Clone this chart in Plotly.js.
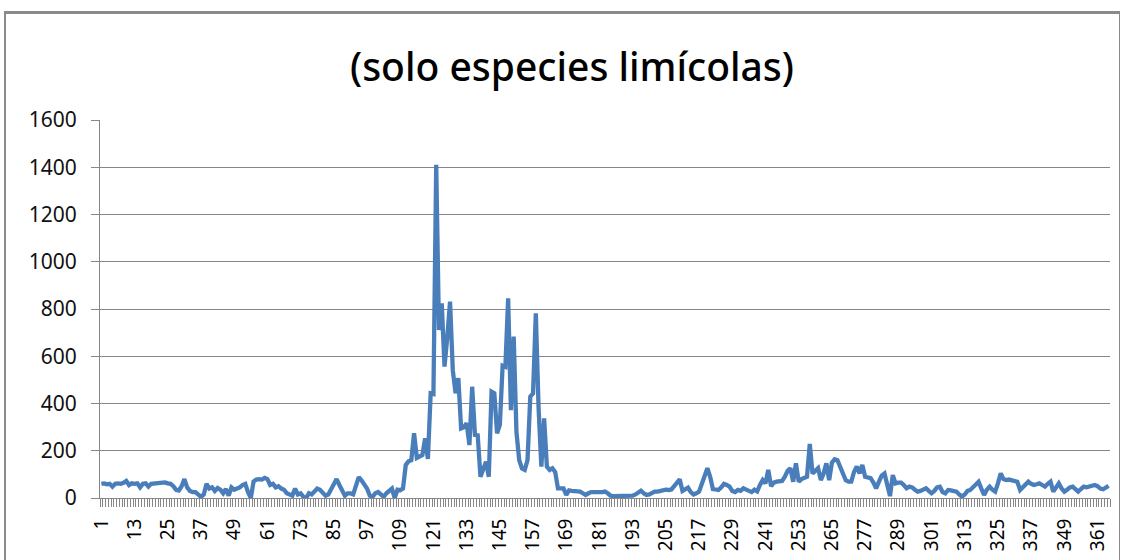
<!DOCTYPE html>
<html>
<head>
<meta charset="utf-8">
<script src="https://cdn.plot.ly/plotly-3.0.1.min.js"></script>
<style>
  html, body { margin: 0; padding: 0; background: #fff; }
  #frame { position: absolute; left: 4px; top: 11px; width: 1116px; height: 560px;
           border-top: 3px solid #8a8a8a; border-left: 2px solid #8a8a8a; border-right: 1px solid #8a8a8a; box-sizing: border-box; pointer-events: none; }
  #chart { position: absolute; left: 0; top: 0; width: 1127px; height: 560px; }
</style>
</head>
<body>
<div id="chart"></div>
<div id="frame"></div>
<script>
// Daily counts, days 1-120
const countsPart1 = [
  60, 62, 58, 60, 48, 60, 62, 60, 64, 72,
  55, 62, 60, 62, 45, 60, 62, 48, 60, 62,
  60, 62, 64, 66, 62, 60, 50, 35, 32, 50,
  80, 45, 30, 25, 25, 15, 5, 15, 60, 40,
  45, 30, 42, 35, 20, 38, 10, 45, 35, 40,
  45, 55, 60, 25, 0, 70, 78, 80, 78, 85,
  80, 55, 60, 45, 50, 40, 35, 20, 15, 10,
  40, 15, 20, 5, 0, 20, 15, 30, 40, 35,
  20, 10, 15, 35, 60, 80, 55, 30, 10, 20,
  20, 15, 50, 88, 75, 60, 40, 10, 5, 20,
  25, 15, 5, 20, 30, 40, 0, 35, 33, 40,
  140, 155, 160, 274, 170, 175, 182, 253, 165, 443
];
// days 121-240
const countsPart2 = [
  440, 1410, 711, 824, 556, 680, 831, 540, 443, 507,
  295, 300, 316, 224, 471, 267, 265, 90, 130, 154,
  90, 450, 443, 274, 310, 560, 555, 845, 372, 683,
  280, 160, 125, 119, 160, 429, 443, 782, 380, 133,
  337, 133, 119, 126, 110, 41, 41, 41, 13, 32,
  30, 28, 28, 27, 20, 13, 20, 25, 25, 27,
  25, 25, 27, 20, 10, 8, 8, 8, 6, 8,
  8, 8, 10, 15, 25, 31, 20, 13, 15, 22,
  27, 27, 30, 34, 35, 34, 36, 50, 62, 79,
  30, 35, 44, 25, 15, 20, 27, 60, 100, 126,
  90, 38, 36, 34, 45, 60, 55, 48, 30, 25,
  34, 30, 41, 35, 30, 25, 35, 28, 55, 76
];
// days 241-365
const countsPart3 = [
  62, 119, 50, 65, 69, 70, 72, 90, 115, 126,
  69, 147, 69, 80, 84, 90, 229, 104, 115, 126,
  76, 104, 147, 76, 150, 164, 160, 130, 95, 75,
  69, 69, 110, 133, 104, 140, 90, 88, 84, 65,
  41, 69, 95, 104, 48, 8, 97, 62, 65, 65,
  55, 41, 48, 45, 35, 27, 30, 38, 41, 30,
  20, 30, 45, 48, 25, 20, 34, 32, 30, 27,
  15, 6, 15, 30, 34, 45, 60, 69, 40, 13,
  35, 48, 35, 27, 62, 104, 80, 76, 78, 76,
  72, 69, 34, 45, 60, 69, 60, 55, 58, 62,
  55, 48, 60, 69, 27, 45, 62, 40, 27, 35,
  45, 48, 40, 27, 38, 48, 45, 48, 52, 55,
  50, 40, 37, 45, 51
];
const xTickLabels = ['1','13','25','37','49','61','73','85','97','109','121','133','145','157','169','181','193','205','217','229','241','253','265','277','289','301','313','325','337','349','361'];
const yTickValues = [0, 200, 400, 600, 800, 1000, 1200, 1400, 1600];
const chartTitle = '(solo especies limícolas)';

const counts = countsPart1.concat(countsPart2, countsPart3);
const days = counts.map((_, i) => i + 1);

const trace = {
  x: days, y: counts, type: 'scatter', mode: 'lines',
  line: { color: '#4a7ebb', width: 4.3 },
  hoverinfo: 'x+y'
};

const font = 'Noto Sans, Open Sans, sans-serif';
const layout = {
  width: 1127, height: 560,
  margin: { l: 100, r: 17, t: 120, b: 62, pad: 0 },
  paper_bgcolor: 'rgba(0,0,0,0)', plot_bgcolor: '#fff',
  showlegend: false,
  title: {
    text: chartTitle, x: 572 / 1127, xanchor: 'center', xref: 'container',
    y: 1 - 67 / 560, yanchor: 'middle', yref: 'container',
    font: { family: font, size: 39, color: '#000', weight: 500 }
  },
  xaxis: {
    type: 'linear', range: [0.5, 365.5], fixedrange: true,
    tickmode: 'array', tickvals: xTickLabels.map(Number), ticktext: xTickLabels,
    tickangle: -90, ticks: '', showgrid: false, zeroline: false,
    showline: true, linecolor: '#868686', linewidth: 1,
    tickfont: { family: font, size: 19, color: '#000' },
    ticklabelstandoff: 12,
    minor: { tick0: 0.5, dtick: 1, ticks: 'outside', ticklen: 8, tickwidth: 1, tickcolor: '#868686', showgrid: false }
  },
  yaxis: {
    range: [0, 1600], fixedrange: true,
    tickmode: 'array', tickvals: yTickValues, ticktext: yTickValues.map(String),
    ticks: 'outside', ticklen: 8, tickcolor: '#868686', tickwidth: 1,
    showgrid: true, gridcolor: '#868686', gridwidth: 1,
    zeroline: false, showline: true, linecolor: '#868686', linewidth: 1,
    tickfont: { family: font, size: 21, color: '#111' },
    ticklabelstandoff: 10
  }
};

Plotly.newPlot('chart', [trace], layout, { displayModeBar: false, staticPlot: true });
</script>
</body>
</html>
